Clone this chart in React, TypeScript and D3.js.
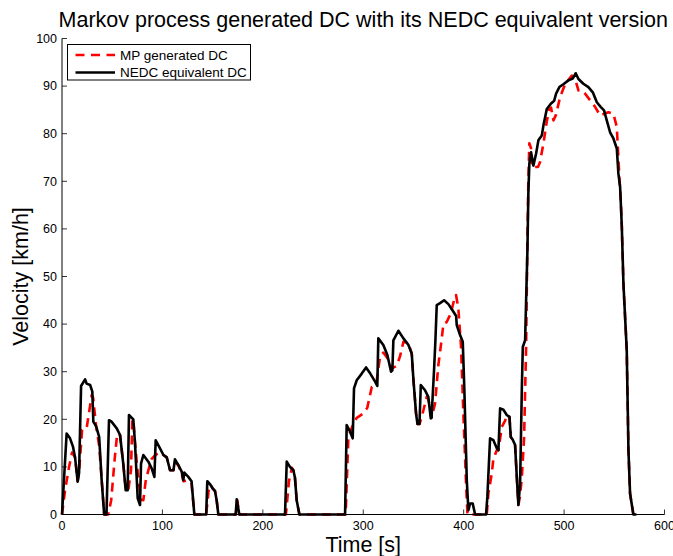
import React from "react";
import * as d3 from "d3";

const title = "Markov process generated DC with its NEDC equivalent version";
const xLabel = "Time [s]";
const yLabel = "Velocity [km/h]";
const seriesNames = ["MP generated DC", "NEDC equivalent DC"];
const xTicks = [0, 100, 200, 300, 400, 500, 600];
const yTicks = [0, 10, 20, 30, 40, 50, 60, 70, 80, 90, 100];

// NEDC equivalent DC (black, solid)
const nedcT = [0,4.6,8,11,13,15.6,17,19,23,24.5,28,30.2,31.2,34,37,39.5,42,44.3,46.8,49.4,54.5,57.8,61,63.4,65.4,66.7,71,72.7,75.4,77.7,78.7,81,86,89.3,92,93.3,97.6,101,104.3,107.6,111,112.5,116,119.2,120.8,121.8,125.8,129,131.8,
143.6,144.7,147.3,150,152.4,154,155.7,
173,174,176.6,
222.1,223.8,227,230.4,232,233.7,236.4,
281.9,283.5,286.9,289.5,290.8,293.5,298.5,302.8,307,311.8,314,315,320,324,327.7,329,330,335,340,345,348.3,350,352.6,354,356,357.3,361.5,364.8,367.2,368,370.5,371.8,373.2,376.5,380.5,384.8,389.8,392.5,393.1,396.4,399.1,400.7,403.1,404.7,406.4,409,411.4,
422.3,423.6,426.3,429.6,433,434.6,436.3,439.6,442.9,445.6,446.9,448.9,451.2,452.9,454.5,456.2,457.9,458.9,461.2,462.2,463.5,464.4,465.4,467.1,469.4,472.1,474.4,477.8,479.4,482.8,486.8,490.1,492,495.3,499.3,504.3,508.6,511.6,514.3,519.2,524.2,528.6,532.6,536.6,539.8,542.5,545.8,549.1,552.5,554.1,555.8,557.5,559.1,562.4,564.1,565.7,569,572];
const nedcV = [0,17,16,14.2,12,6.9,8.7,27,28.4,27.5,27.2,25.8,19.5,18.5,16.3,7.2,0,0,19.8,19.5,18.1,16.7,10.7,5.1,5.1,20.9,20,15,3.4,2,10.7,12.5,11.1,9.7,7.9,15.6,13.9,12.5,12,9.3,9.3,11.6,10.3,9,7.2,8.8,7.9,7,0,
0,7,6.4,5.5,4.9,3,0,
0,3.2,0,
0,11.1,10,9.3,7.7,3,0,
0,18.8,17.4,16,26.5,28.2,29.6,30.9,29.6,27.9,27,37,35.6,33.5,30,30.3,36.6,38.6,37,35.6,33.8,28.2,21.2,19,19,27.2,26.1,24.7,20.2,20.3,30.3,36.3,44,44.4,45,44.2,42.6,41.7,39.8,37.7,36.3,26.1,7.2,0.9,2.3,2.3,0,
0,3.7,16,15.6,13.9,13.5,22.3,22,20.9,20.5,16.3,15.7,14.6,7.9,2,6.5,26.1,35.2,36.6,45,55.5,67.4,73.7,76.1,73.3,75.8,78.6,79.6,81.7,85.2,86.3,86.9,88.4,89.8,90.4,91.2,91.6,92.7,91.5,90.5,89.8,88.7,86.6,85.6,84.9,82.8,80.3,79,76.9,71.6,68.8,60.4,48.5,34.5,13.5,4.4,0,0];

// MP generated DC (red, dashed)
const mpT = [0,3,7,10,13,15.6,17,20,24.5,29.6,31,34,37,40,42,46,49,52.6,55,57.8,61,63.4,66,68.7,70,71,72.7,76,78.7,81,83.3,86,89.3,93,97.6,101,104.3,107.6,111,112.5,116,119.2,121,125.8,129,131.8,
143.6,146,148,150,152.4,154,155.7,
173,174.5,176.6,
223,226,229,230.4,232,233.7,236.4,
282.5,285.2,290.2,293.5,300,304,308.5,313,316.7,320,323.3,328.3,333.3,336.7,340,345,348.3,350,352.6,354,356,358.3,363.2,365,368,371.5,374.8,378.2,379.8,383,387.1,390.4,392.4,394.7,397.4,399.7,402.5,403.8,
423,424.6,428,429.6,433,434.6,438,441.3,442.9,445.6,446.9,448.9,451.2,452.9,454.5,456.2,458,460.2,461.2,462.2,463.3,464.4,465.4,467,468,474,476,479.4,482.8,485,487,489.4,492,496,501,507.7,511,514.3,517.6,521,526,531,536,541,544.2,549.1,552.5,553.5,555,556.5,557.5,559.1,562.4,564.1,565.7,569];
const mpV = [0,5,10,13,12,7,9,17.8,18.1,25.1,24.5,18.5,14.5,6,0,0,3,12,17,16.7,10.7,5.5,5,9.3,19.5,20,15,7.5,3.1,3,7,9.3,11.7,12.5,13.1,12.5,12,9.3,9.3,11,10.3,8.5,7,7.2,6.5,0,
0,5,6.2,5.5,4.9,3,0,
0,3,0,
0,7,9.8,9.3,7.7,3,0,
0,16.3,19.1,20.3,21.2,22.4,26.8,27.5,33.1,34,33.1,30.7,31.2,33.3,36.3,36,33.8,28.2,21.2,19,19,20.5,24.7,24,20.4,23.3,31.4,37,40.1,40.4,42.2,45,46.1,43.3,35.2,21.2,5.9,0,
0,4.4,8.6,11.7,13.5,13.5,18.4,19.7,20.9,20.5,16.3,15.7,14.6,7.9,2,4,8,16.3,26,35.2,55,70,78,77,73,73,74,77.9,82.6,85,85.5,82.8,84,87.7,90.4,92.2,91.5,89.1,89.1,88.4,87,85.6,83.8,84.3,84.5,84.2,81.4,77.3,71,66,60.4,48.5,34.5,13.5,4.4,0];

const W = 673;
const H = 556;
const FONT = "'Liberation Sans', Arial, Helvetica, sans-serif";

export default function App() {
  const x = d3.scaleLinear().domain([0, 600]).range([62, 664.5]);
  const y = d3.scaleLinear().domain([0, 100]).range([514.5, 38.5]);

  const line = d3
    .line<number>()
    .x((_, i) => 0)
    .y(() => 0);

  const mk = (ts: number[], vs: number[]) =>
    d3
      .line<[number, number]>()
      .x((d) => x(d[0]))
      .y((d) => y(d[1]))(ts.map((t, i) => [t, vs[i]] as [number, number])) || "";

  const mpPath = mk(mpT, mpV);
  const nedcPath = mk(nedcT, nedcV);
  void line;

  const x0 = x(0);
  const x1 = x(600);
  const yb = y(0);
  const yt = y(100);

  return (
    <svg
      width={W}
      height={H}
      style={{ position: "absolute", left: 0, top: 0, background: "#fff" }}
      fontFamily={FONT}
    >
      <rect x={0} y={0} width={W} height={H} fill="#fff" />
      {/* title */}
      <text x={(x0 + x1) / 2} y={27} textAnchor="middle" fontSize={21.5} fill="#000">
        {title}
      </text>
      {/* data */}
      <path
        d={mpPath}
        fill="none"
        stroke="#ff0000"
        strokeWidth={2.6}
        strokeDasharray="9,6"
        strokeLinejoin="round"
      />
      <path d={nedcPath} fill="none" stroke="#000" strokeWidth={2.6} strokeLinejoin="round" />
      {/* axes */}
      <line x1={x0} x2={x0} y1={yb} y2={yt} stroke="#000" strokeWidth={1} />
      <line x1={x0} x2={x1} y1={yb} y2={yb} stroke="#000" strokeWidth={1} />
      {yTicks.map((v) => (
        <g key={"y" + v}>
          <line x1={x0} x2={x0 + 5} y1={y(v)} y2={y(v)} stroke="#000" strokeWidth={0.8} />
          <text x={x0 - 5} y={y(v) + 4.3} textAnchor="end" fontSize={12.5} fill="#000">
            {v}
          </text>
        </g>
      ))}
      {xTicks.map((v) => (
        <g key={"x" + v}>
          <line x1={x(v)} x2={x(v)} y1={yb} y2={yb - 5} stroke="#000" strokeWidth={0.8} />
          <text x={x(v)} y={530} textAnchor="middle" fontSize={12.5} fill="#000">
            {v}
          </text>
        </g>
      ))}
      {/* axis labels */}
      <text x={(x0 + x1) / 2} y={552} textAnchor="middle" fontSize={21.5} fill="#000">
        {xLabel}
      </text>
      <text
        transform={`translate(28,${(yb + yt) / 2}) rotate(-90)`}
        textAnchor="middle"
        fontSize={21.5}
        fill="#000"
      >
        {yLabel}
      </text>
      {/* legend */}
      <rect x={67.5} y={44.5} width={183} height={35.5} fill="#fff" stroke="#000" strokeWidth={1} />
      <line x1={75.5} x2={115} y1={55} y2={55} stroke="#ff0000" strokeWidth={2.6} strokeDasharray="9,6.5" />
      <text x={120} y={59.5} fontSize={13.5} fill="#000">
        {seriesNames[0]}
      </text>
      <line x1={75.5} x2={115} y1={72.5} y2={72.5} stroke="#000" strokeWidth={2.6} />
      <text x={120} y={77} fontSize={13.5} fill="#000">
        {seriesNames[1]}
      </text>
    </svg>
  );
}
